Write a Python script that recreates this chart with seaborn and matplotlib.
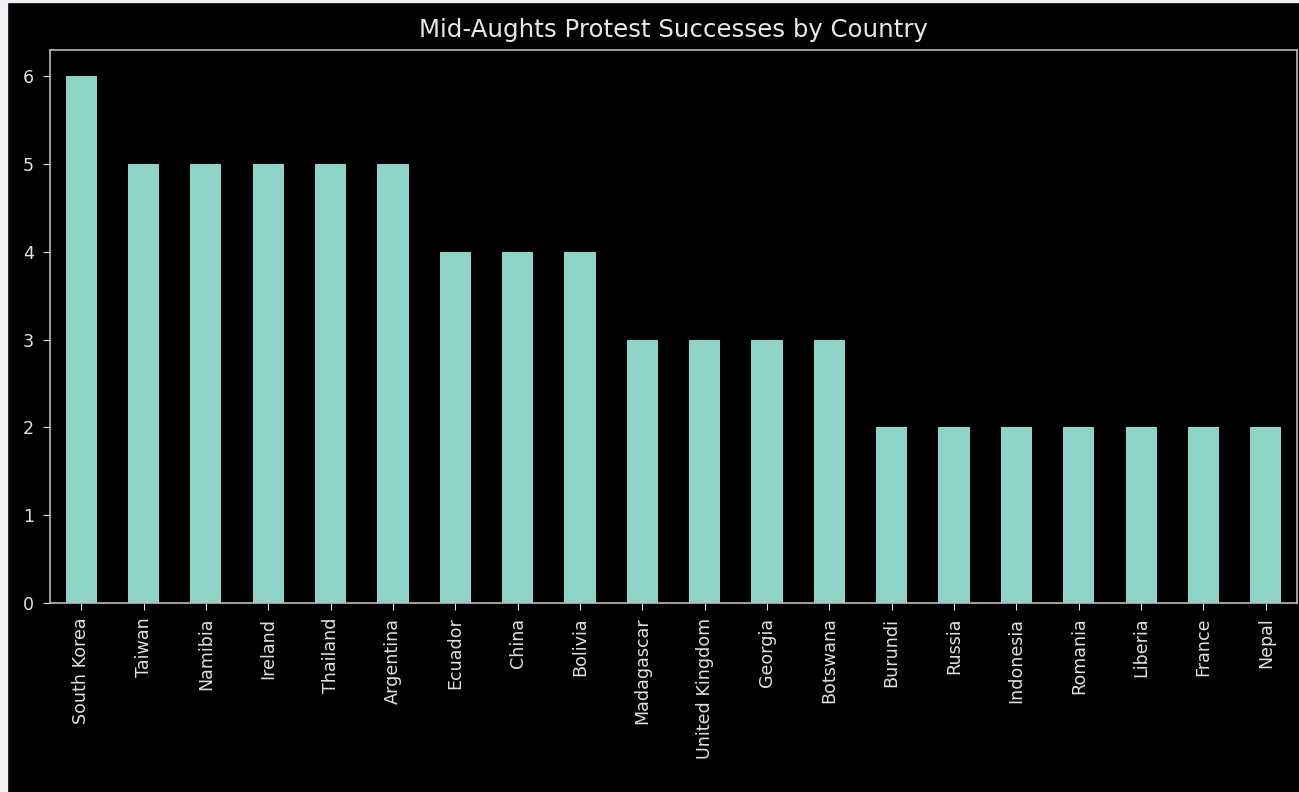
import matplotlib
matplotlib.use("Agg")
import matplotlib.pyplot as plt
import seaborn as sns
import pandas as pd
from matplotlib.patches import Rectangle

countries = ["South Korea", "Taiwan", "Namibia", "Ireland", "Thailand", "Argentina",
             "Ecuador", "China", "Bolivia", "Madagascar", "United Kingdom", "Georgia",
             "Botswana", "Burundi", "Russia", "Indonesia", "Romania", "Liberia",
             "France", "Nepal"]
successes = [6, 5, 5, 5, 5, 5, 4, 4, 4, 3, 3, 3, 3, 2, 2, 2, 2, 2, 2, 2]

df = pd.DataFrame({"country": countries, "successes": successes})

plt.style.use("dark_background")
fig = plt.figure(figsize=(12.99, 7.92), dpi=100)
ax = fig.add_axes([50 / 1299, 1 - 603 / 792, 1247 / 1299, 553 / 792])

sns.barplot(data=df, x="country", y="successes", order=countries,
            color="#8dd3c7", width=0.5, saturation=1, ax=ax)

ax.set_xlim(-0.5, len(countries) - 0.5)
ax.set_ylim(0, 6.3)
ax.set_xlabel("")
ax.set_ylabel("")
ax.set_title("Mid-Aughts Protest Successes by Country", fontsize=17.6, color="#e8e8e8", pad=9)
ax.tick_params(axis="x", labelrotation=90, labelsize=12.6, colors="#e0e0e0",
               length=5, pad=5.5)
ax.tick_params(axis="y", labelsize=12.6, colors="#e0e0e0", length=5, pad=6.5)
for s in ax.spines.values():
    s.set_color("#bbbbbb")
    s.set_linewidth(1.2)

# light screenshot border on top and left
fig.patches.append(Rectangle((0, 0), 7 / 1299, 1, transform=fig.transFigure,
                             color="#f0f1f5", zorder=10))
fig.patches.append(Rectangle((0, 1 - 2 / 792), 1, 2 / 792, transform=fig.transFigure,
                             color="#f0f1f5", zorder=10))

fig.savefig("out.png", dpi=100, facecolor="black")
